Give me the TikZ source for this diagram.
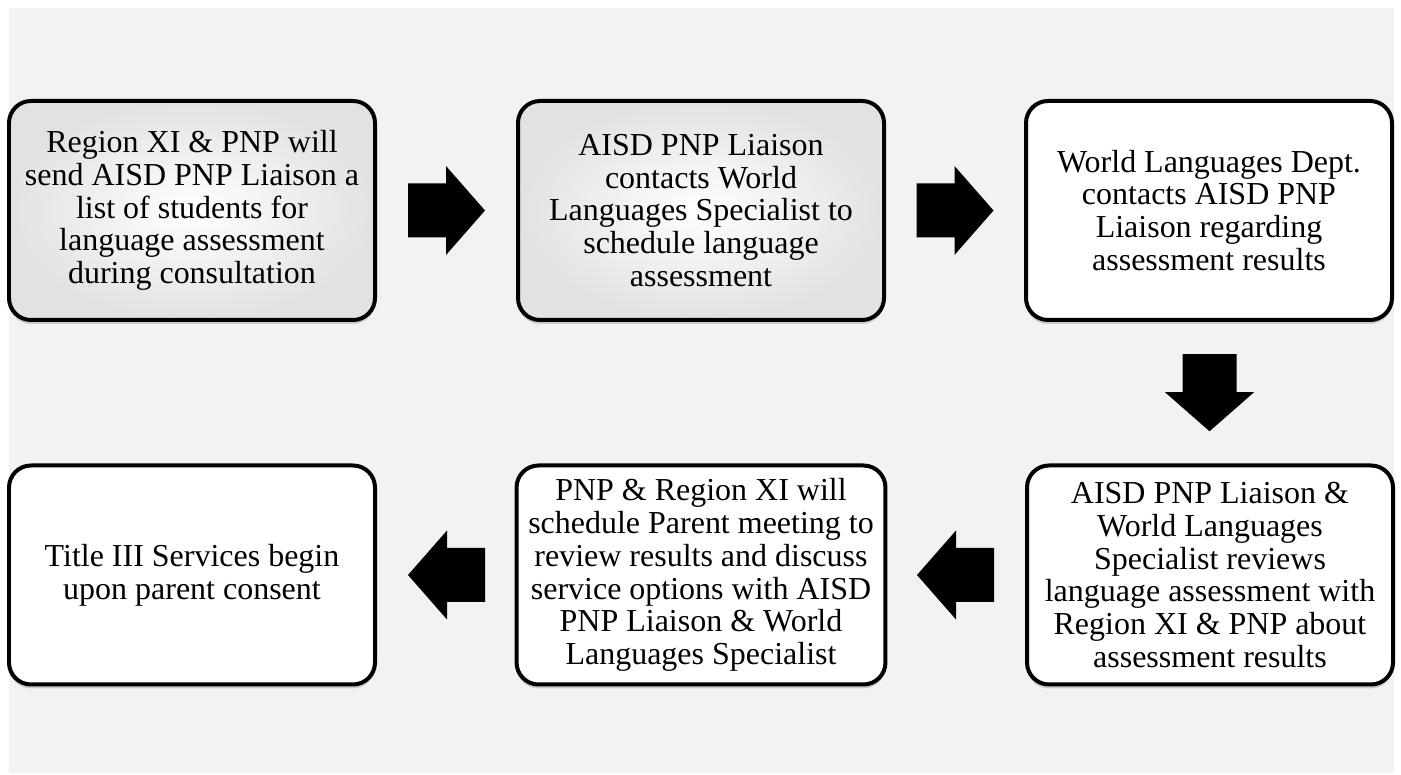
\documentclass[tikz,border=0pt]{standalone}
\usepackage{fontspec}
\setmainfont{Liberation Serif}
\usetikzlibrary{calc, shadows}

\definecolor{bggray}{HTML}{F2F2F2}
\definecolor{shadegray}{HTML}{E2E2E2}

\tikzset{
    stepbox/.style={draw=black, line width=0.04cm, rounded corners=0.22cm, fill=white,
        minimum width=3.66cm, minimum height=2.19cm, align=center,
        font=\fontsize{9.1}{9.35}\selectfont,
        drop shadow={shadow xshift=0pt, shadow yshift=-0.04cm, opacity=0.35}},
    glossy/.style={shading=radial, inner color=white, outer color=shadegray},
    blockarrow/.pic={
        \fill[black] (-0.385,-0.27) -- (-0.005,-0.27) -- (-0.005,-0.445) -- (0.385,0)
            -- (-0.005,0.445) -- (-0.005,0.27) -- (-0.385,0.27) -- cycle;
    }
}

\begin{document}
\begin{tikzpicture}
    % Page and background
    \useasboundingbox (0,0) rectangle (14.01,7.74);
    \fill[bggray] (0.09,0.01) rectangle (13.94,7.66);

    % Top row
    \node[stepbox, glossy] (reg) at (1.92,5.635)
        {Region XI \& PNP will\\ send AISD PNP Liaison a\\ list of students for\\ language assessment\\ during consultation};
    \node[stepbox, glossy] (liaison) at (7.01,5.635)
        {AISD PNP Liaison\\ contacts World\\ Languages Specialist to\\ schedule language\\ assessment};
    \node[stepbox] (wld) at (12.09,5.635)
        {World Languages Dept.\\ contacts AISD PNP\\ Liaison regarding\\ assessment results};

    % Bottom row
    \node[stepbox] (review) at (12.10,1.99)
        {AISD PNP Liaison \&\\ World Languages\\ Specialist reviews\\ language assessment with\\ Region XI \& PNP about\\ assessment results};
    \node[stepbox] (meeting) at (7.01,1.99)
        {PNP \& Region XI will\\ schedule Parent meeting to\\ review results and discuss\\ service options with AISD\\ PNP Liaison \& World\\ Languages Specialist};
    \node[stepbox] (title) at (1.92,1.99)
        {Title III Services begin\\ upon parent consent};

    % Block arrows between the steps
    \foreach \a/\b/\r in {reg/liaison/0, liaison/wld/0, review/meeting/180, meeting/title/180} {
        \pic[rotate=\r] at ($(\a)!0.5!(\b)$) {blockarrow};
    }
    \pic[rotate=-90] at ($(wld.south)!0.5!(review.north)$) {blockarrow};
\end{tikzpicture}
\end{document}
